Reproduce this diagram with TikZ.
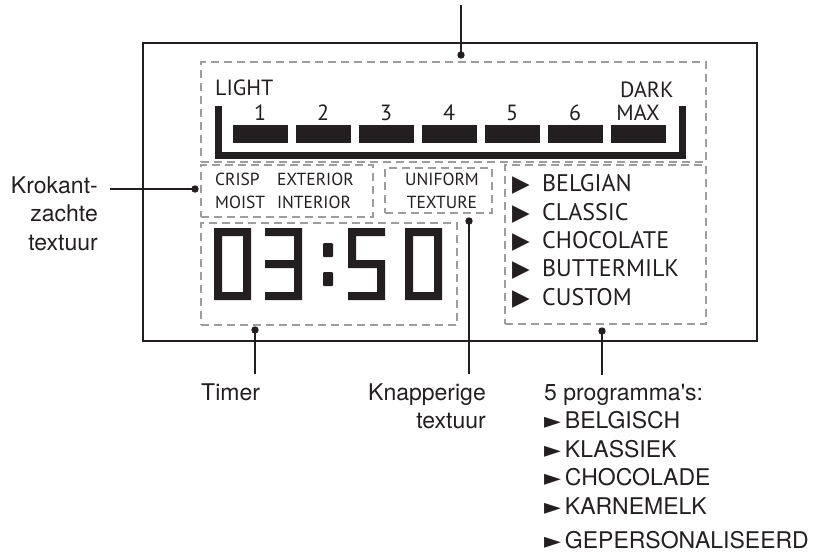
\documentclass[tikz,border=0pt]{standalone}
\usepackage{fontspec}
\setmainfont{TeX Gyre Heros}[Ligatures=TeXOff]
\newfontfamily\lcdfont{PT Sans}
\newfontfamily\symfont{DejaVu Sans}
\usepackage{xcolor}
\usetikzlibrary{positioning}
\definecolor{ink}{HTML}{231F20}
\definecolor{dashgray}{HTML}{9D9D9D}
\tikzset{
    panel/.style={draw=ink, line width=2pt},
    zone/.style={draw=dashgray, line width=2.5pt, dash pattern=on 8pt off 5pt, rectangle, inner sep=0pt},
    seg/.style={fill=ink},
    lcd/.style={font=\lcdfont\fontsize{22}{26}\selectfont, text=ink, inner sep=0pt},
    lcdsmall/.style={font=\lcdfont\fontsize{17.5}{23}\selectfont, text=ink, inner sep=0pt},
    lcdlist/.style={font=\lcdfont\fontsize{24}{28.3}\selectfont, text=ink, inner sep=0pt, align=left},
    callout/.style={font=\fontsize{23}{28.5}\selectfont, text=ink, inner sep=0pt},
    pindot/.style={circle, fill=ink, inner sep=0pt, minimum size=7.4pt},
    lead/.style={draw=ink, line width=1.3pt}
}
\newcommand\menutri{\makebox[30pt][l]{\symfont\fontsize{23}{24}\selectfont ▶}}
\newcommand\calltri{{\symfont\fontsize{22}{24}\selectfont ►}\,}

\begin{document}
\begin{tikzpicture}[x=1pt, y=-1pt]
    \useasboundingbox (0,0) rectangle (813,552);

    % control panel
    \draw[panel] (143,43) rectangle (757,341);

    \node[zone, minimum width=505pt, minimum height=100pt] (shadezone) at (453.5,112) {};
    \node[zone, minimum width=172pt, minimum height=52pt] (texturezone) at (287,191) {};
    \node[zone, minimum width=107pt, minimum height=45pt] (uniformzone) at (438.5,190.5) {};
    \node[zone, minimum width=256pt, minimum height=102pt] (timerzone) at (329,274) {};
    \node[zone, minimum width=201pt, minimum height=159pt] (menuzone) at (605.5,244.5) {};

    % browning level
    \node[lcd, anchor=base west] (light) at (215,95) {LIGHT};
    \node[lcd, anchor=base west] (dark) at (620,97) {DARK};
    \foreach \lvl [count=\i from 0] in {1,2,3,4,5,6,MAX} {
        \node[lcd, anchor=base] (lvl\i) at (260+63*\i,120) {\lvl};
        \fill[seg] (233+63*\i,125) rectangle (287.5+63*\i,143);
    }
    \draw[ink, line width=7pt] (218.5,106) -- (218.5,155.5) -- (682,155.5) -- (682,106);

    % texture
    \node[lcdsmall, anchor=base west] (crisp) at (215,185)
        {\begin{tabular}[t]{@{}l@{\hspace{12pt}}l@{}}CRISP & EXTERIOR\\ MOIST & INTERIOR\end{tabular}};
    \node[lcdsmall, anchor=base, align=center] (uniform) at (442,208) {UNIFORM\\TEXTURE};

    % menu
    \node[lcdlist, anchor=base west] (menu) at (512,305)
        {\menutri BELGIAN\\ \menutri CLASSIC\\ \menutri CHOCOLATE\\
         \menutri BUTTERMILK\\ \menutri CUSTOM};

    % timer 03:50
    \fill[seg, even odd rule] (214,228) rectangle (251,300) (222,236) rectangle (243,292);
    \fill[seg] (265,228) rectangle (302,236) (265,260) rectangle (302,268)
        (265,292) rectangle (302,300) (294,228) rectangle (302,300);
    \fill[seg, rounded corners=1pt] (323,243) rectangle (333,257) (323,272) rectangle (333,286);
    \fill[seg] (348,228) rectangle (385,236) (348,228) rectangle (356,268)
        (348,260) rectangle (385,268) (377,260) rectangle (385,300) (348,292) rectangle (385,300);
    \fill[seg, even odd rule] (405,228) rectangle (442,300) (413,236) rectangle (434,292);

    % callouts
    \node[pindot] (shadedot) at (461,55) {};
    \node[pindot] (softdot) at (195,189) {};
    \node[pindot] (timerdot) at (255,330) {};
    \node[pindot] (crispdot) at (469,221) {};
    \node[pindot] (menudot) at (602,331) {};
    \coordinate (shadetip) at (461,5);

    \node[callout, anchor=base east, align=right] (softlbl) at (98,250) {Krokant-\\zachte\\textuur};
    \node[callout, anchor=base west] (timerlbl) at (201,400) {Timer};
    \node[callout, anchor=base east, align=right] (crisplbl) at (486,428.5) {Knapperige\\textuur};
    \node[callout, anchor=base west, align=left] (menulbl) at (544,548)
        {5 programma's:\\ \calltri BELGISCH\\ \calltri KLASSIEK\\ \calltri CHOCOLADE\\
         \calltri KARNEMELK\\[5.5pt] \calltri GEPERSONALISEERD};

    \draw[lead] (shadetip) -- (shadedot.center);
    \draw[lead, shorten <=12pt] (softlbl.east |- softdot) -- (softdot.center);
    \draw[lead, shorten >=9pt] (timerdot.center) -- (timerdot |- timerlbl.north);
    \draw[lead, shorten >=9pt] (crispdot.center) -- (crispdot |- crisplbl.north);
    \draw[lead, shorten >=9pt] (menudot.center) -- (menudot |- menulbl.north);
\end{tikzpicture}
\end{document}
